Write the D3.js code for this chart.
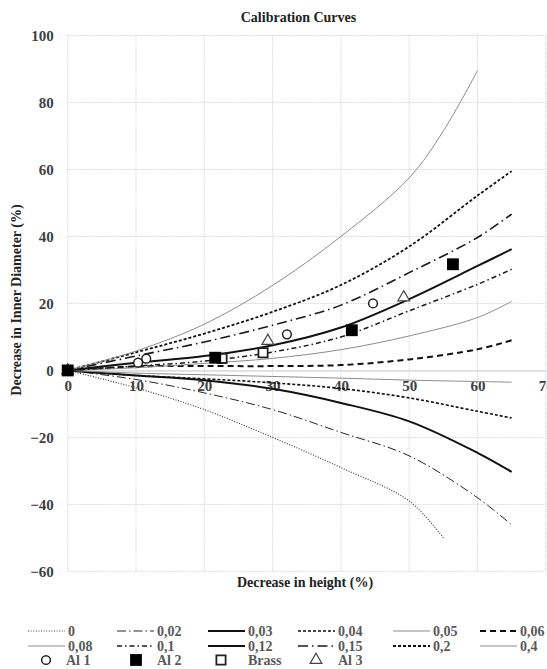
<!DOCTYPE html>
<html>
<head>
<meta charset="utf-8">
<script src="https://cdn.jsdelivr.net/npm/d3@7"></script>
<style>
  body { margin: 0; background: #fff; }
  svg text { font-family: "Liberation Serif", "Times New Roman", "DejaVu Serif", serif; }
</style>
</head>
<body>
<div id="chart"></div>
<script>
const W = 547, H = 669;
const MARGIN = { TOP: 35.5, RIGHT: 1.2, BOTTOM: 97.6, LEFT: 67.7 };
const WIDTH = W - MARGIN.LEFT - MARGIN.RIGHT;
const HEIGHT = H - MARGIN.TOP - MARGIN.BOTTOM;
const FONT = '"Liberation Serif", "Times New Roman", "DejaVu Serif", serif';

// decrease in height (%) sample points
const heightPts = [0, 10, 20, 30, 40, 50, 60, 65];
const heightPts0 = [0, 10, 20, 30, 40, 50, 55];
const heightPts04 = [0, 10, 20, 30, 40, 50, 55, 60];

// decrease in inner diameter (%) per friction factor
const m0 = [0, -5.2, -11.7, -20, -29, -39, -50];
const m002 = [0, -2.7, -6.7, -11.7, -18.5, -25.5, -38, -46.1];
const m003 = [0, -1.5, -2.9, -5.5, -9.7, -15.2, -24.6, -30.3];
const m004 = [0, -1.5, -2.5, -3.7, -5.4, -8.2, -12.2, -14.2];
const m005 = [0, -0.8, -1.3, -1.8, -2.3, -2.9, -3.3, -3.5];
const m006 = [0, 1.2, 1.3, 1.3, 1.6, 3.3, 6.3, 9.0];
const m008 = [0, 0.8, 2.1, 3.6, 6.2, 10.3, 15.8, 20.6];
const m01 = [0, 1.3, 2.8, 5.5, 10, 17.8, 25.7, 30.2];
const m012 = [0, 2.3, 4.3, 7.5, 12.8, 21.3, 31.2, 36.2];
const m015 = [0, 4.3, 8.5, 13.5, 19.5, 29.2, 39.7, 46.7];
const m02 = [0, 5.4, 11, 17.5, 25.5, 37, 52.2, 59.5];
const m04 = [0, 5.8, 13.8, 25.4, 40, 57.5, 71.5, 89.5];

// experimental points
const al1X = [0, 10.3, 11.5, 32.1, 44.7];
const al1Y = [0, 2.3, 3.5, 10.8, 20.0];
const al2X = [0, 21.6, 41.6, 56.4];
const al2Y = [0, 3.8, 12.0, 31.7];
const brassX = [0, 22.6, 28.6];
const brassY = [0, 3.6, 5.3];
const al3X = [0, 29.3, 49.2];
const al3Y = [0, 8.8, 21.8];

const xTicks = [0, 10, 20, 30, 40, 50, 60, 70];
const yTicks = [-60, -40, -20, 0, 20, 40, 60, 80, 100];

const curves = [
    { name: "0", xs: heightPts0, ys: m0, color: "#404040", width: 1.2, dash: "1,1.6" },
    { name: "0,02", xs: heightPts, ys: m002, color: "#262626", width: 1, dash: "9,3,1.5,3" },
    { name: "0,03", xs: heightPts, ys: m003, color: "#111", width: 2, dash: null },
    { name: "0,04", xs: heightPts, ys: m004, color: "#111", width: 1.6, dash: "3,2" },
    { name: "0,05", xs: heightPts, ys: m005, color: "#8c8c8c", width: 1, dash: null },
    { name: "0,06", xs: heightPts, ys: m006, color: "#111", width: 2, dash: "6,4" },
    { name: "0,08", xs: heightPts, ys: m008, color: "#8c8c8c", width: 1, dash: null },
    { name: "0,1", xs: heightPts, ys: m01, color: "#1a1a1a", width: 1.5, dash: "5,3,1.5,3" },
    { name: "0,12", xs: heightPts, ys: m012, color: "#111", width: 2, dash: null },
    { name: "0,15", xs: heightPts, ys: m015, color: "#1a1a1a", width: 1.6, dash: "10,4,1.5,4" },
    { name: "0,2", xs: heightPts, ys: m02, color: "#111", width: 1.8, dash: "3,2" },
    { name: "0,4", xs: heightPts04, ys: m04, color: "#8c8c8c", width: 1, dash: null },
];

const x = d3.scaleLinear().domain([0, 70]).range([0, WIDTH]);
const y = d3.scaleLinear().domain([-60, 100]).range([HEIGHT, 0]);

const svg = d3.select("#chart").append("svg")
    .attr("width", W)
    .attr("height", H);

const g = svg.append("g")
    .attr("transform", `translate(${MARGIN.LEFT}, ${MARGIN.TOP})`);

// gridlines
g.append("g").selectAll("line").data(xTicks).join("line")
    .attr("x1", d => x(d)).attr("x2", d => x(d))
    .attr("y1", 0).attr("y2", HEIGHT)
    .attr("stroke", "#d9d9d9").attr("stroke-dasharray", "1.5,1");
g.append("g").selectAll("line").data(yTicks.filter(d => d !== 0)).join("line")
    .attr("x1", 0).attr("x2", WIDTH)
    .attr("y1", d => y(d)).attr("y2", d => y(d))
    .attr("stroke", "#d9d9d9").attr("stroke-dasharray", "1.5,1");

// axes
const xAxis = g.append("g")
    .attr("transform", `translate(0,${y(0)})`)
    .call(d3.axisBottom(x).tickValues(xTicks).tickSize(0).tickPadding(10));
xAxis.select(".domain").attr("stroke", "#c4c4c4");

const yAxis = g.append("g")
    .call(d3.axisLeft(y).tickValues(yTicks).tickSize(0).tickPadding(14));
yAxis.select(".domain").remove();

svg.selectAll(".tick text")
    .style("font-family", FONT)
    .attr("font-size", 15)
    .attr("font-weight", "bold")
    .attr("fill", "#404040");

// curves
const line = d3.line()
    .x(d => x(d[0]))
    .y(d => y(d[1]))
    .curve(d3.curveCatmullRom.alpha(0.5));

g.append("g").selectAll("path").data(curves).join("path")
    .attr("d", c => line(c.xs.map((v, i) => [v, c.ys[i]])))
    .attr("fill", "none")
    .attr("stroke", c => c.color)
    .attr("stroke-width", c => c.width)
    .attr("stroke-dasharray", c => c.dash);

// markers
const zip = (xs, ys) => xs.map((v, i) => [v, ys[i]]);
const sym = {
    al1: d3.symbol().type(d3.symbolCircle).size(60),
    al2: d3.symbol().type(d3.symbolSquare).size(140),
    brass: d3.symbol().type(d3.symbolSquare).size(85),
    al3: d3.symbol().type(d3.symbolTriangle).size(60),
};

g.append("g").selectAll("path").data(zip(al1X, al1Y)).join("path")
    .attr("transform", d => `translate(${x(d[0])},${y(d[1])})`)
    .attr("d", sym.al1()).attr("fill", "#fff").attr("stroke", "#222").attr("stroke-width", 1.5);
g.append("g").selectAll("path").data(zip(brassX, brassY)).join("path")
    .attr("transform", d => `translate(${x(d[0])},${y(d[1])})`)
    .attr("d", sym.brass()).attr("fill", "#fff").attr("stroke", "#222").attr("stroke-width", 1.8);
g.append("g").selectAll("path").data(zip(al3X, al3Y)).join("path")
    .attr("transform", d => `translate(${x(d[0])},${y(d[1])})`)
    .attr("d", sym.al3()).attr("fill", "#fff").attr("stroke", "#444").attr("stroke-width", 1.2);
g.append("g").selectAll("path").data(zip(al2X, al2Y)).join("path")
    .attr("transform", d => `translate(${x(d[0])},${y(d[1])})`)
    .attr("d", sym.al2()).attr("fill", "#000");

// titles
svg.append("text")
    .attr("x", 298.5).attr("y", 22)
    .attr("text-anchor", "middle")
    .attr("font-size", 14).attr("font-weight", "bold").attr("fill", "#222")
    .text("Calibration Curves");

svg.append("text")
    .attr("x", 305).attr("y", 587)
    .attr("text-anchor", "middle")
    .attr("font-size", 14).attr("font-weight", "bold").attr("fill", "#222")
    .text("Decrease in height (%)");

svg.append("text")
    .attr("transform", "translate(21,300) rotate(-90)")
    .attr("text-anchor", "middle")
    .attr("font-size", 14).attr("font-weight", "bold").attr("fill", "#222")
    .text("Decrease in Inner Diameter (%)");

// legend
const legCols = [68, 157, 248, 338, 433, 520];
const legRows = [636, 651, 665];
const legend = svg.append("g");

curves.forEach((c, i) => {
    const col = i % 6, row = Math.floor(i / 6);
    const lx = legCols[col], ly = legRows[row];
    legend.append("line")
        .attr("x1", lx - 40).attr("x2", lx - 3)
        .attr("y1", ly - 5).attr("y2", ly - 5)
        .attr("stroke", c.color)
        .attr("stroke-width", c.width)
        .attr("stroke-dasharray", c.dash);
    legend.append("text")
        .attr("x", lx).attr("y", ly)
        .attr("font-size", 14).attr("font-weight", "bold").attr("fill", "#595959")
        .text(c.name);
});

const markerLeg = [
    { name: "Al 1", s: sym.al1, fill: "#fff", stroke: "#222", sw: 1.5, mx: 46 },
    { name: "Al 2", s: sym.al2, fill: "#000", stroke: "none", sw: 0, mx: 136 },
    { name: "Brass", s: sym.brass, fill: "#fff", stroke: "#222", sw: 1.8, mx: 221 },
    { name: "Al 3", s: sym.al3, fill: "#fff", stroke: "#444", sw: 1.2, mx: 316 },
];
markerLeg.forEach((m, i) => {
    const ly = legRows[2];
    legend.append("path")
        .attr("transform", `translate(${m.mx},${ly - 5})`)
        .attr("d", m.s())
        .attr("fill", m.fill).attr("stroke", m.stroke).attr("stroke-width", m.sw);
    legend.append("text")
        .attr("x", legCols[i] - (i === 0 ? 2 : 0)).attr("y", ly)
        .attr("font-size", 14).attr("font-weight", "bold").attr("fill", "#595959")
        .text(m.name);
});
</script>
</body>
</html>
